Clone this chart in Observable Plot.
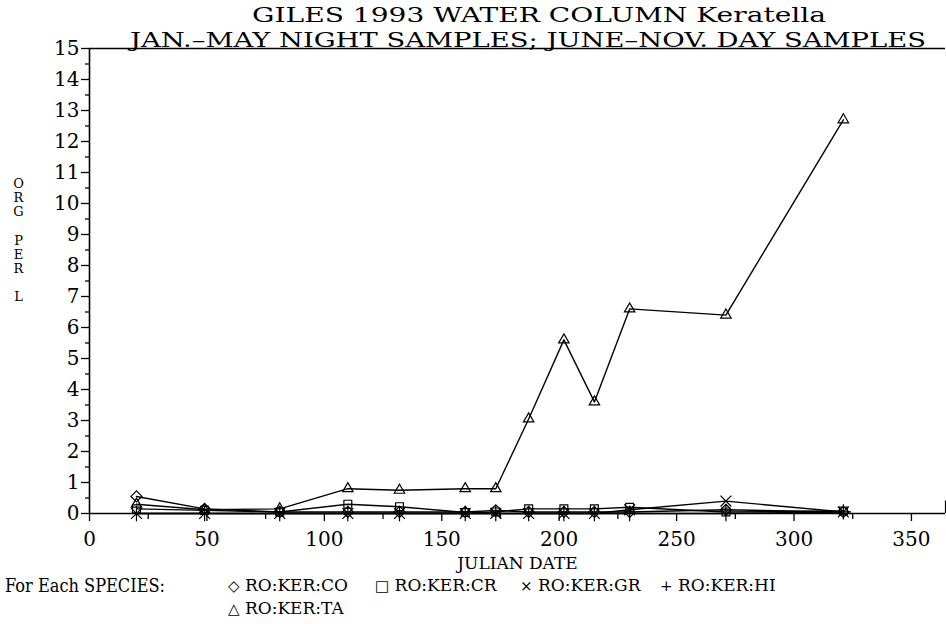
<!DOCTYPE html>
<html>
<head>
<meta charset="utf-8">
<script src="https://cdn.jsdelivr.net/npm/d3@7"></script>
<script src="https://cdn.jsdelivr.net/npm/@observablehq/plot@0.6"></script>
<style>
  html, body { margin: 0; padding: 0; background: white; }
  #wrap { position: relative; width: 946px; height: 624px; overflow: hidden; font-family: "DejaVu Serif", serif; color: black; }
  .abs { position: absolute; white-space: nowrap; line-height: 1; }
  .ttl { line-height: 24px; height: 24px; font-size: 20px; }
  #chart { position: absolute; left: 0; top: 0; }
</style>
</head>
<body>
<div id="wrap">
  <div id="chart"></div>
  <div class="abs fit ttl" id="t1" data-left="252" data-width="574" style="top:3px;">GILES 1993 WATER COLUMN Keratella</div>
  <div class="abs fit ttl" id="t2" data-left="130" data-width="796" style="top:28px;">JAN.–MAY NIGHT SAMPLES; JUNE–NOV. DAY SAMPLES</div>
  <div class="abs fit" data-left="5" data-width="160" style="top:577px;font-size:18px;">For Each SPECIES:</div>
  <div id="legend"></div>
</div>
<script>
// ---- data ----
const days = [20, 49, 81, 110, 132, 160, 173, 187, 202, 215, 230, 271, 321];
const species = ["RO:KER:CO", "RO:KER:CR", "RO:KER:GR", "RO:KER:HI", "RO:KER:TA"];
const valCO = [0.55, 0.15, 0.05, 0.05, 0.05, 0.05, 0.1, 0.05, 0.05, 0.05, 0.05, 0.12, 0.05];
const valCR = [0.15, 0.1, 0.05, 0.3, 0.22, 0.03, 0.05, 0.15, 0.15, 0.15, 0.2, 0.05, 0.08];
const valGR = [0.0, 0.0, 0.0, 0.0, 0.0, 0.0, 0.0, 0.0, 0.0, 0.0, 0.12, 0.4, 0.05];
const valHI = [0.0, 0.0, 0.0, 0.0, 0.0, 0.0, 0.0, 0.0, 0.0, 0.0, 0.0, 0.0, 0.05];
const valTA = [0.3, 0.12, 0.15, 0.8, 0.75, 0.8, 0.8, 3.05, 5.6, 3.6, 6.6, 6.4, 12.7];
const symbols = ["diamond2", "square2", "times", "plus", "triangle2"];
const legendGlyphs = ["◇", "□", "×", "+", "△"];
const xTicks = [0, 50, 100, 150, 200, 250, 300, 350];
const xMinorTicks = [25, 75, 125, 175, 225, 275, 325];
const yTicks = [0, 1, 2, 3, 4, 5, 6, 7, 8, 9, 10, 11, 12, 13, 14, 15];
const yMinorTicks = [0.5, 1.5, 2.5, 3.5, 4.5, 5.5, 6.5, 7.5, 8.5, 9.5, 10.5, 11.5, 12.5, 13.5, 14.5];
const xLabel = "JULIAN DATE";
const yLabel = "O\nR\nG\n\nP\nE\nR\n\nL";

const seriesValues = [valCO, valCR, valGR, valHI, valTA];
const rows = species.flatMap((s, i) => days.map((d, j) => ({species: s, day: d, value: seriesValues[i][j]})));

const chart = Plot.plot({
  width: 946,
  height: 578,
  marginLeft: 89,
  marginRight: 1,
  marginTop: 48,
  marginBottom: 65,
  x: {domain: [0, 364.5]},
  y: {domain: [0, 15]},
  symbol: {domain: species, range: symbols},
  style: {fontFamily: "DejaVu Serif", fontSize: "20px", color: "black", background: "white", overflow: "visible"},
  marks: [
    Plot.axisX({ticks: xTicks, tickSize: 8, tickPadding: 10, label: null, stroke: "black", strokeWidth: 1.3}),
    Plot.axisX({ticks: xMinorTicks, tickSize: 6, text: null, label: null, stroke: "black", strokeWidth: 1.3}),
    Plot.axisY({ticks: yTicks, tickSize: 8, tickPadding: 2, label: null, stroke: "black", strokeWidth: 1.3}),
    Plot.axisY({ticks: yMinorTicks, tickSize: 4, text: null, label: null, stroke: "black", strokeWidth: 1.3}),
    Plot.ruleY([0], {stroke: "black", strokeWidth: 1.6}),
    Plot.ruleY([15], {stroke: "black", strokeWidth: 1.4}),
    Plot.ruleX([0], {stroke: "black", strokeWidth: 1.6}),
    Plot.ruleX([364.5], {y1: 0, y2: 0.4, stroke: "black", strokeWidth: 1.2}),
    Plot.text([xLabel], {frameAnchor: "bottom", dy: 55, fontSize: 17, fill: "black"}),
    Plot.text([yLabel], {frameAnchor: "left", dx: -71, dy: -41, fontSize: 13, lineHeight: 1.08, textAnchor: "middle", fill: "black"}),
    Plot.line(rows, {x: "day", y: "value", z: "species", stroke: "black", strokeWidth: 1.4}),
    Plot.dot(rows, {x: "day", y: "value", symbol: "species", stroke: "black", fill: "none", r: 5, strokeWidth: 1.2})
  ]
});
document.getElementById("chart").appendChild(chart);

// legend
const legend = document.getElementById("legend");
const legendPos = [[228, 577], [375, 577], [520, 577], [660, 577], [228, 600]];
species.forEach((s, i) => {
  const el = document.createElement("div");
  el.className = "abs";
  el.style.left = legendPos[i][0] + "px";
  el.style.top = legendPos[i][1] + "px";
  el.style.fontSize = "17px";
  el.innerHTML = `<span style="font-size:15px">${legendGlyphs[i]}</span> ${s}`;
  legend.appendChild(el);
});

// fit title text widths
document.querySelectorAll(".fit").forEach(el => {
  el.style.left = el.dataset.left + "px";
  const w = el.getBoundingClientRect().width;
  const target = +el.dataset.width;
  el.style.transformOrigin = "0 0";
  el.style.transform = `scaleX(${target / w})`;
});
</script>
</body>
</html>
